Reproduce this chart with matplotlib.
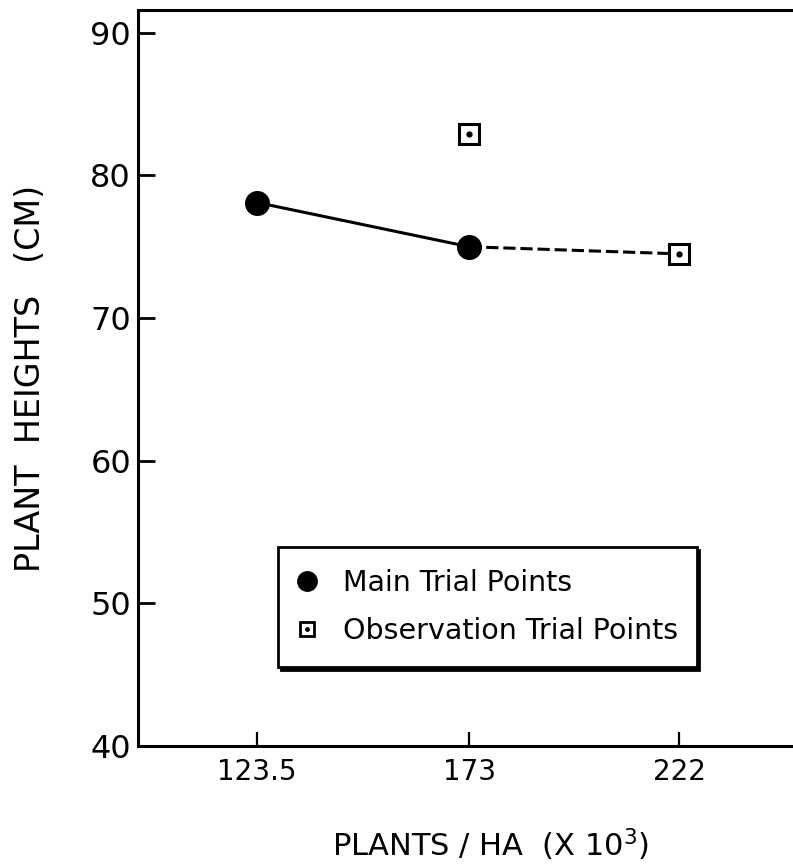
import matplotlib
matplotlib.use("Agg")
from matplotlib import pyplot as plt
from matplotlib.lines import Line2D

# plants per hectare (x 10^3) and plant heights (cm)
main_x = [123.5, 173]
main_y = [78.1, 75.0]
obs_x = [173, 222]
obs_y = [82.9, 74.5]
link_x = [173, 222]
link_y = [75.0, 74.5]
xticks = [123.5, 173, 222]
xtick_labels = ["123.5", "173", "222"]
yticks = [40, 50, 60, 70, 80, 90]

plt.rcParams["font.family"] = ["DejaVu Sans"]

fig = plt.figure(figsize=(7.93, 8.67), dpi=100)
ax = fig.add_axes([0.174, 0.1396, 0.826, 0.8489])

ax.plot(main_x, main_y, color="black", lw=2.2, solid_capstyle="butt")
ax.plot(link_x, link_y, color="black", lw=2.2, linestyle=(0, (4, 1.6)))
ax.plot(main_x, main_y, "o", color="black", ms=17, zorder=5)
ax.plot(obs_x, obs_y, "s", mfc="white", mec="black", mew=2.2, ms=15, zorder=5)
ax.plot(obs_x, obs_y, "o", color="black", ms=3.5, zorder=6)

ax.set_xlim(95.7, 248.6)
ax.set_ylim(40, 91.6)
ax.set_xticks(xticks)
ax.set_xticklabels(xtick_labels)
ax.set_yticks(yticks)

ax.spines["right"].set_visible(False)
for s in ["left", "bottom", "top"]:
    ax.spines[s].set_linewidth(2.2)

ax.tick_params(axis="y", direction="in", length=12, width=2, pad=5, labelsize=23)
ax.tick_params(axis="x", direction="in", length=10, width=1.6, pad=9, labelsize=20)

ax.set_ylabel("PLANT  HEIGHTS   (CM)", fontsize=24, labelpad=31)
ax.set_xlabel("PLANTS / HA  (X 10$^{3}$)", fontsize=22, labelpad=29)
ax.xaxis.label.set_x(0.539)

h_main = Line2D([], [], marker="o", color="black", ls="none", ms=14)
h_obs_box = Line2D([], [], marker="s", mfc="white", mec="black", mew=2, ls="none", ms=10)
h_obs_dot = Line2D([], [], marker="o", color="black", ls="none", ms=2.5)
leg = ax.legend(
    [h_main, (h_obs_box, h_obs_dot)],
    ["Main Trial Points", "Observation Trial Points"],
    loc="lower left",
    bbox_to_anchor=(0.214, 0.107, 0.639, 0.165),
    mode="expand",
    borderaxespad=0,
    fontsize=20.5,
    frameon=True,
    fancybox=False,
    edgecolor="black",
    framealpha=1,
    labelspacing=0.7,
    borderpad=0.77,
    handletextpad=1.0,
    handlelength=0.5,
    shadow={"color": "black", "alpha": 1, "ox": 2, "oy": -2},
)
leg.get_frame().set_linewidth(2)

fig.savefig("out.png", dpi=100)
